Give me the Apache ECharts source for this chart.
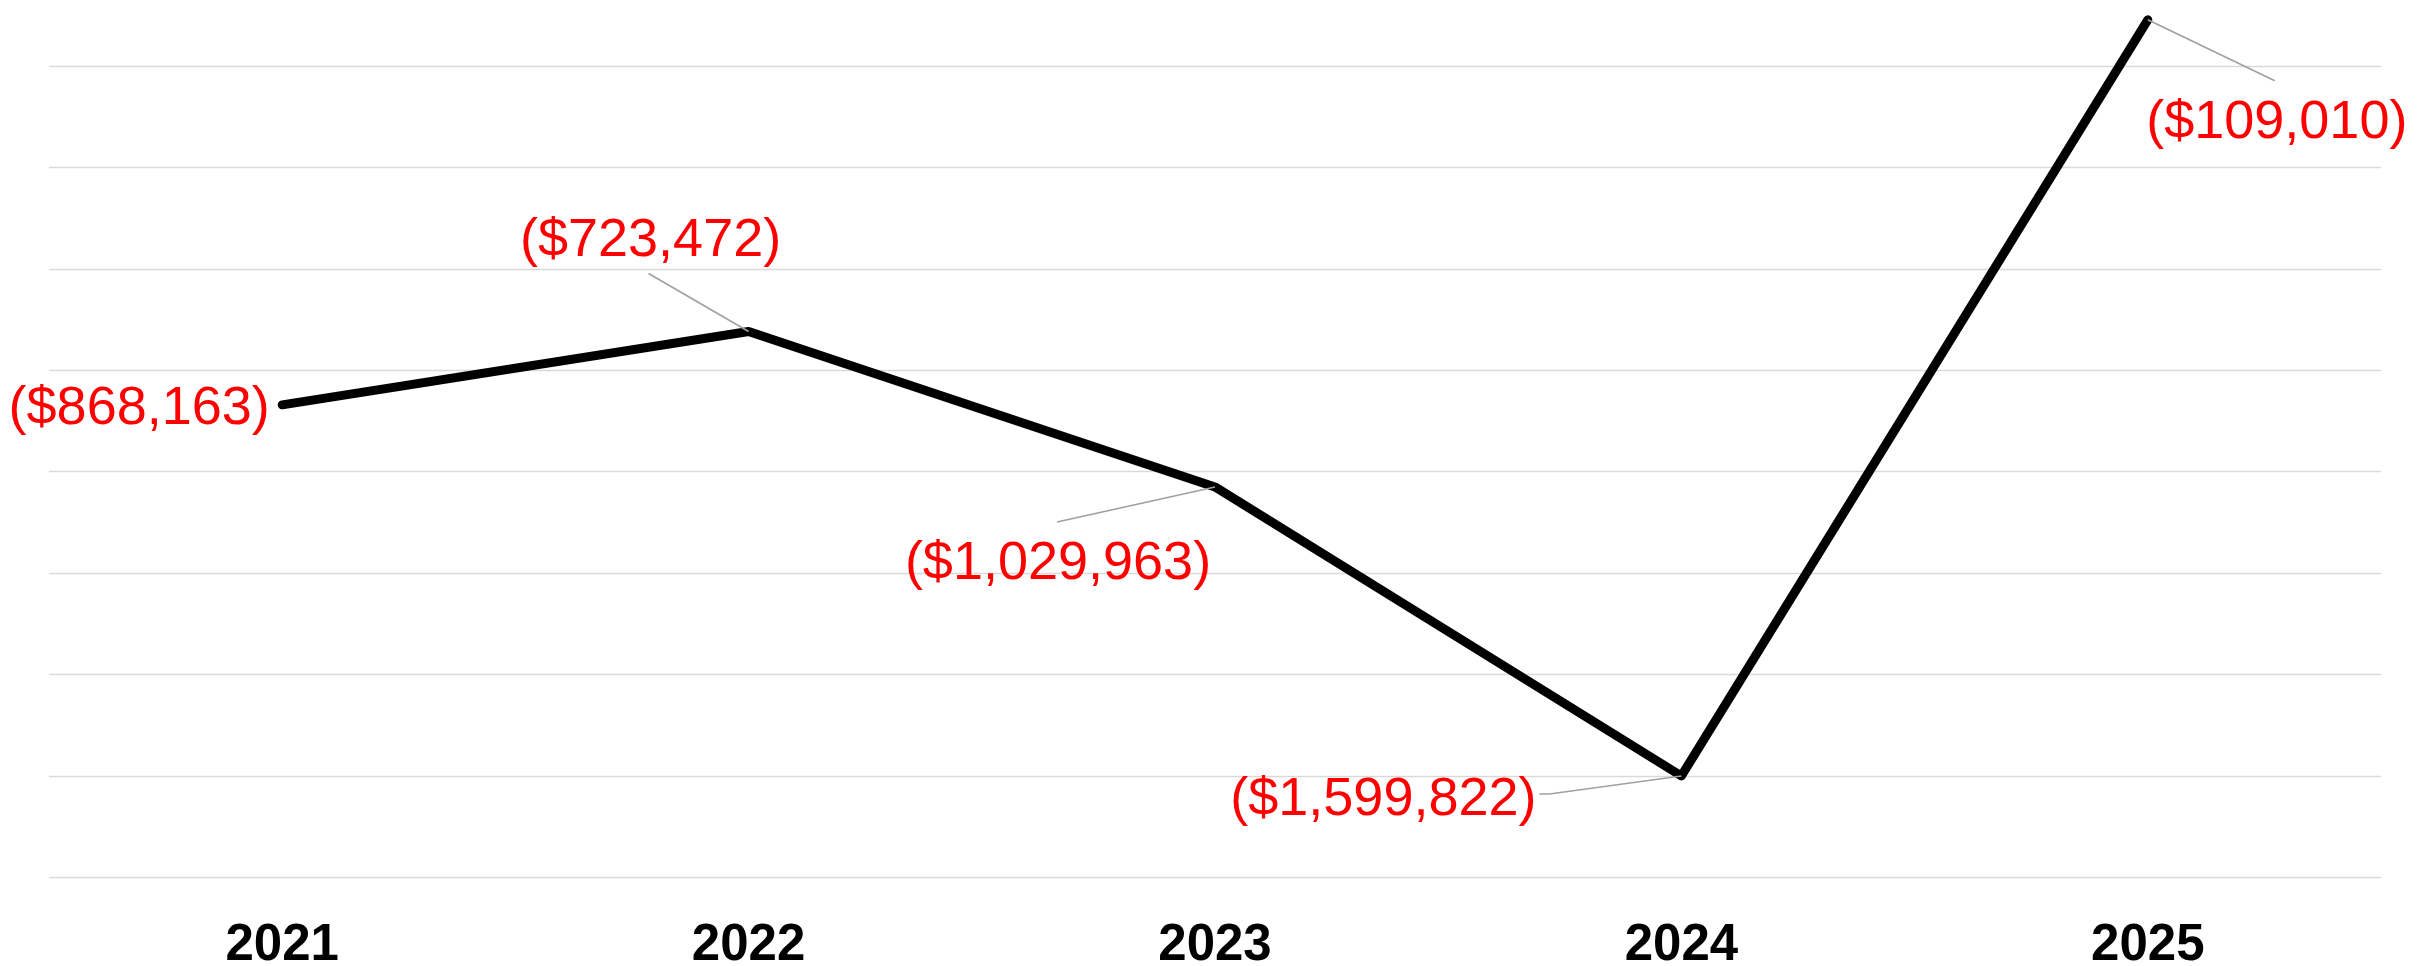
<!DOCTYPE html>
<html>
<head>
<meta charset="utf-8">
<script src="https://cdn.jsdelivr.net/npm/echarts@6/dist/echarts.min.js"></script>
<style>
html,body{margin:0;padding:0;background:#fff;}
#chart{width:2433px;height:966px;}
</style>
</head>
<body>
<div id="chart"></div>
<script>
const categories = ['2021', '2022', '2023', '2024', '2025'];
const values = [-868163, -723472, -1029963, -1599822, -109010];
const labelTexts = ['($868,163)', '($723,472)', '($1,029,963)', '($1,599,822)', '($109,010)'];

// label placement relative to each point (pixels): label centre and leader line points
const labelOffsets = [[-143, 4], [-98, -90], [-157, 77], [-298, 24], [129, 103]];
const leaderPoints = [null, [[-100, -58]], [[-158, 35]], [[-132, 18], [-142, 18]], [[127, 61]]];

const chart = echarts.init(document.getElementById('chart'));
chart.setOption({
  animation: false,
  backgroundColor: '#ffffff',
  grid: { left: 49, right: 52, top: 15.2, bottom: 88.5, containLabel: false, outerBoundsMode: 'none' },
  xAxis: {
    type: 'category',
    data: categories,
    boundaryGap: true,
    axisLine: { show: false },
    axisTick: { show: false },
    axisLabel: {
      color: '#000000',
      fontFamily: 'Liberation Sans, Arial, sans-serif',
      fontWeight: 'bold',
      fontSize: 51,
      margin: 43
    },
    splitLine: { show: false }
  },
  yAxis: {
    type: 'value',
    min: -1800000,
    max: -100000,
    interval: 200000,
    axisLine: { show: false },
    axisTick: { show: false },
    axisLabel: { show: false },
    splitLine: { show: true, showMaxLine: false, lineStyle: { color: '#d9d9d9', width: 1.3 } }
  },
  series: [{
    type: 'line',
    data: values,
    showSymbol: false,
    clip: false,
    lineStyle: { color: '#000000', width: 9, cap: 'round', join: 'round' },
    z: 2
  }, {
    type: 'custom',
    data: values.map((v, i) => [i, v]),
    clip: false,
    z: 3,
    renderItem: function (params, api) {
      const i = params.dataIndex;
      const pt = api.coord([api.value(0), api.value(1)]);
      const cx = pt[0], cy = pt[1];
      const o = labelOffsets[i];
      const children = [];
      const lp = leaderPoints[i];
      if (lp) {
        const pts = [[cx, cy]].concat(lp.map(p => [cx + p[0], cy + p[1]]));
        children.push({
          type: 'polyline',
          shape: { points: pts },
          style: { stroke: '#a0a0a0', lineWidth: 1.6, fill: null }
        });
      }
      children.push({
        type: 'text',
        x: cx + o[0],
        y: cy + o[1],
        style: {
          text: labelTexts[i],
          fill: '#ff0000',
          fontFamily: 'Liberation Sans, Arial, sans-serif',
          fontSize: 54,
          align: 'center',
          verticalAlign: 'middle'
        }
      });
      return { type: 'group', children: children };
    }
  }]
});
</script>
</body>
</html>
